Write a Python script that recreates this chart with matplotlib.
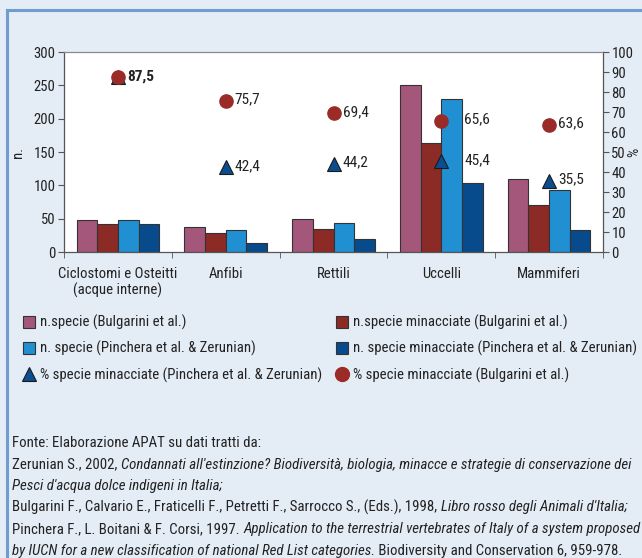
import matplotlib
matplotlib.use("Agg")
import matplotlib.pyplot as plt
from matplotlib import font_manager as fm
from matplotlib.lines import Line2D
from matplotlib.patches import Patch
import numpy as np

categories = ["Ciclostomi e Osteitti\n(acque interne)", "Anfibi", "Rettili", "Uccelli", "Mammiferi"]
n_specie_bulgarini = [48, 37, 49, 250, 110]
n_minacciate_bulgarini = [42, 28, 34, 164, 70]
n_specie_pinchera = [48, 33, 43, 229, 93]
n_minacciate_pinchera = [42, 14, 19, 104, 33]
pct_pinchera = [87.5, 42.4, 44.2, 45.4, 35.5]
pct_bulgarini = [87.5, 75.7, 69.4, 65.6, 63.6]
left_ticks = [0, 50, 100, 150, 200, 250, 300]
right_ticks = [0, 10, 20, 30, 40, 50, 60, 70, 80, 90, 100]

labels_series = ["n.specie (Bulgarini et al.)", "n.specie minacciate (Bulgarini et al.)",
                 "n. specie (Pinchera et al. & Zerunian)", "n. specie minacciate (Pinchera et al. & Zerunian)",
                 "% specie minacciate (Pinchera et al. & Zerunian)", "% specie minacciate (Bulgarini et al.)"]

# pick a condensed font if available
avail = {f.name for f in fm.fontManager.ttflist}
fam = 'Liberation Sans'
for cand in ['Liberation Sans Narrow', 'Roboto Condensed', 'Open Sans Condensed', 'Arial Narrow',
             'Nimbus Sans Narrow', 'DejaVu Sans Condensed']:
    if cand in avail:
        fam = cand
        break
plt.rcParams['font.family'] = [fam, 'Liberation Sans', 'DejaVu Sans']

c_pink = '#A5567B'
c_red = '#8C2A25'
c_lblue = '#2190D2'
c_dblue = '#074B8D'
c_circle = '#9A2B26'
c_tri = '#0B4E90'
txt = '#222222'
bg = '#E4ECF6'

W, H = 642, 558
fig = plt.figure(figsize=(W / 100, H / 100), dpi=100, facecolor=bg)
fig.canvas.draw()
renderer = fig.canvas.get_renderer()


def fit_size(s, target_px, style='normal'):
    t = fig.text(0, 0, s, fontsize=10, fontstyle=style)
    w = t.get_window_extent(renderer=renderer).width
    t.remove()
    return 10 * target_px / w


fs_leg = fit_size("n.specie (Bulgarini et al.)", 144)
fs_foot = fit_size("Bulgarini F., Calvario E., Fraticelli F., Petretti F., Sarrocco S., (Eds.), 1998, ", 425)
fs_ax = fs_leg

# border lines (top and left)
fig.add_artist(Line2D([6.5 / W, 1], [1 - 9.5 / H, 1 - 9.5 / H], color='#6F9DCF', lw=2.2, transform=fig.transFigure))
fig.add_artist(Line2D([6.5 / W, 6.5 / W], [0, 1 - 9.5 / H], color='#6F9DCF', lw=2.2, transform=fig.transFigure))

ax = fig.add_axes([64 / W, 1 - 252 / H, (603 - 64) / W, 200 / H])
ax.set_facecolor('white')
x = np.arange(len(categories))
bw = 0.192
series = [n_specie_bulgarini, n_minacciate_bulgarini, n_specie_pinchera, n_minacciate_pinchera]
colors = [c_pink, c_red, c_lblue, c_dblue]
for i, (vals, col) in enumerate(zip(series, colors)):
    ax.bar(x + (i - 1.5) * bw, vals, bw, color=col, edgecolor='#333333', linewidth=0.8, zorder=2)

ax.set_xlim(-0.5, len(categories) - 0.5)
ax.set_ylim(0, 300)
ax.set_yticks(left_ticks)
ax.set_xticks(x)
ax.set_xticklabels(categories, fontsize=fs_ax, color=txt, linespacing=1.1)
ax.set_xticks(np.arange(-0.5, len(categories)), minor=True)
ax.tick_params(axis='x', which='major', length=0, pad=11)
ax.tick_params(axis='x', which='minor', length=4, direction='out', color='#555555')
ax.tick_params(axis='y', length=4, direction='out', color='#555555', labelsize=fs_ax, labelcolor=txt, pad=2)
for s in ['left', 'bottom', 'right']:
    ax.spines[s].set_color('#555555')
    ax.spines[s].set_linewidth(0.9)
ax.spines['top'].set_color('#8a8a8a')
ax.spines['top'].set_linewidth(0.9)
ax.set_ylabel('n.', fontsize=fs_ax, color=txt)
ax.yaxis.set_label_coords((25 - 64) / 539, 0.5)

ax2 = ax.twinx()
ax2.set_ylim(0, 100)
ax2.set_yticks(right_ticks)
ax2.tick_params(axis='y', length=4, direction='out', color='#555555', labelsize=fs_ax, labelcolor=txt, pad=2)
for s in ax2.spines.values():
    s.set_visible(False)
ax2.set_ylabel('%', fontsize=fs_ax, color=txt)
ax2.yaxis.set_label_coords((627 - 64) / 539, 0.5)

ax2.plot(x, pct_pinchera, linestyle='none', marker='^', markersize=10.5, color=c_tri,
         markeredgecolor='#1a1a1a', markeredgewidth=0.8, zorder=3)
ax2.plot(x, pct_bulgarini, linestyle='none', marker='o', markersize=9.5, color=c_circle, zorder=4)


def fmt(v):
    return f"{v:.1f}".replace('.', ',')


fs_val = fs_ax * 1.05
for i in range(len(categories)):
    dx = 16.5 if i == 3 else 6.5
    if pct_bulgarini[i] == pct_pinchera[i]:
        ax2.annotate(fmt(pct_bulgarini[i]), (x[i], pct_bulgarini[i]), xytext=(dx, 0.5), textcoords='offset points',
                     va='center', ha='left', fontsize=fs_val, fontweight='bold', color=txt)
    else:
        ax2.annotate(fmt(pct_bulgarini[i]), (x[i], pct_bulgarini[i]), xytext=(dx, 1), textcoords='offset points',
                     va='center', ha='left', fontsize=fs_val, color=txt)
        ax2.annotate(fmt(pct_pinchera[i]), (x[i], pct_pinchera[i]), xytext=(dx, 1), textcoords='offset points',
                     va='center', ha='left', fontsize=fs_val, color=txt)

# legends
h_pink = Patch(facecolor=c_pink, edgecolor='#333333', linewidth=0.8)
h_red = Patch(facecolor=c_red, edgecolor='#333333', linewidth=0.8)
h_lb = Patch(facecolor=c_lblue, edgecolor='#333333', linewidth=0.8)
h_db = Patch(facecolor=c_dblue, edgecolor='#333333', linewidth=0.8)
h_tri = Line2D([], [], linestyle='none', marker='^', markersize=10, color=c_tri, markeredgecolor='#1a1a1a', markeredgewidth=0.8)
h_cir = Line2D([], [], linestyle='none', marker='o', markersize=10, color=c_circle)

row_px = 25.5
leg_kw = dict(frameon=False, fontsize=fs_leg, handlelength=0.85, handleheight=0.85, handletextpad=0.3,
              labelspacing=(row_px * 72 / 100) / fs_leg - 1.0, borderaxespad=0, borderpad=0, labelcolor=txt)
l1 = fig.legend([h_pink, h_lb, h_tri], [labels_series[0], labels_series[2], labels_series[4]],
                loc='upper left', bbox_to_anchor=(23 / W, 1 - 315 / H), **leg_kw)
l2 = fig.legend([h_red, h_db, h_cir], [labels_series[1], labels_series[3], labels_series[5]],
                loc='upper left', bbox_to_anchor=(336 / W, 1 - 315 / H), **leg_kw)

# footer
footer = [
    [("Fonte: Elaborazione APAT su dati tratti da:", 'normal')],
    [("Zerunian S., 2002, ", 'normal'),
     ("Condannati all'estinzione? Biodiversità, biologia, minacce e strategie di conservazione dei", 'italic')],
    [("Pesci d'acqua dolce indigeni in Italia;", 'italic')],
    [("Bulgarini F., Calvario E., Fraticelli F., Petretti F., Sarrocco S., (Eds.), 1998, ", 'normal'),
     ("Libro rosso degli Animali d'Italia;", 'italic')],
    [("Pinchera F., L. Boitani & F. Corsi, 1997. ", 'normal'),
     ("Application to the terrestrial vertebrates of Italy of a system proposed", 'italic')],
    [("by IUCN for a new classification of national Red List categories.", 'italic'),
     (" Biodiversity and Conservation 6, 959-978.", 'normal')],
]
y0 = 443
for li, parts in enumerate(footer):
    xpix = 12
    ypix = y0 + li * 21.5
    for s, style in parts:
        t = fig.text(xpix / W, 1 - ypix / H, s, fontsize=fs_foot, fontstyle=style, color=txt, va='center', ha='left')
        bb = t.get_window_extent(renderer=renderer)
        xpix += bb.width

fig.savefig('out.png', dpi=100, facecolor=bg)
